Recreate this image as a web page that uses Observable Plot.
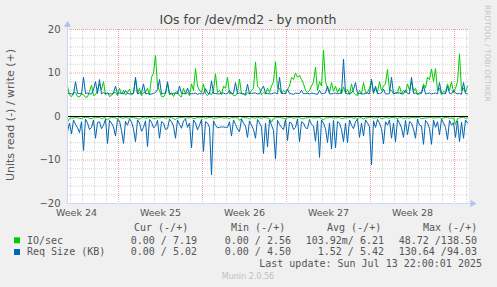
<!DOCTYPE html>
<html><head><meta charset="utf-8">
<script src="https://cdn.jsdelivr.net/npm/d3@7"></script>
<script src="https://cdn.jsdelivr.net/npm/@observablehq/plot@0.6"></script>
<style>
html,body{margin:0;padding:0;background:#f0f0f0;}
#chart{position:relative;width:497px;height:287px;overflow:hidden;background:#f0f0f0;}
#chart > svg{position:absolute;left:0;top:0;}
</style></head><body><div id="chart"></div>
<script>
// ---- data (one sample every 4 hours, from Jun 10 18:00 UTC) ----
const wIO = [
7,5, 4.5,5.5, 5.5,4.6, 4.5,5.2, 5,4.4, 4.5,5.8, 7.2,4.8, 5,6, 7.5,6.2, 8,5,
5.5,4.6, 4.8,5.4, 5.5,4.8, 6.5,5.2, 6,4.9, 5.5,6.3, 5,5.4, 8.5,5.2, 6.5,4.8, 5.5,5.6,
6.5,5, 9,10, 14,7, 6,4.6, 4.5,5.2, 7.5,5, 5.5,4.6, 5.5,5.8, 4.8,4.5, 6.5,5.2,
5.5,4.8, 7.5,6, 11,7, 6,5.5, 7.5,5.2, 4.8,5.4, 5,6, 9.8,5.5, 6,5, 7,6.5,
9,5.2, 5.5,4.8, 4.8,5.5, 8.6,5.2, 5.2,4.8, 5.5,5.2, 6,6.5, 12.5,7, 6.5,5, 5.5,5.2,
6.5,5.5, 7,8, 12.6,6.5, 6.5,5.2, 6,5.6, 6.2,7, 9,8.5, 10,9, 9.5,8.5, 7.5,6,
5.5,6, 7,8, 11.3,6, 8,7, 15.2,8, 6.5,5.5, 7.8,5.8, 7,5.5, 6.5,5.2, 6.8,5.4,
6.2,5, 7.5,5.5, 5,4.8, 6,5.2, 7.8,5.5, 5.5,6.5, 8.2,5.5, 6.5,5.5, 8,6, 7,7.5,
10.8,6, 6,5.2, 5.5,5.5, 7,5.2, 6,5.5, 7.5,6, 8,5.8, 6.5,5, 5.5,5.5, 7.5,6.5,
9,8.5, 10.9,8, 11,6, 6.5,5, 5.8,5.5, 7.5,6, 8,5.5, 6.5,8, 14.4,6, 6.5,5.5,
7];
const rIO = [
1.2,0.5, 0.3,0.4, 0.2,0.3, 0.4,0.5, 0.3,0.2, 0.2,0.4, 0.5,0.3, 0.3,0.2, 0.2,0.5, 0.3,0.3,
0.8,0.4, 0.2,0.3, 0.3,0.5, 0.2,0.3, 0.4,0.2, 0.3,0.4, 0.2,0.3, 0.3,0.5, 0.6,0.3, 0.2,0.4,
0.3,0.2, 0.2,0.5, 0.4,0.3, 0.3,0.2, 0.2,0.4, 0.3,0.3, 0.2,0.5, 0.7,0.3, 0.3,0.2, 0.2,0.4,
0.3,0.3, 0.2,0.5, 0.4,0.2, 0.3,0.3, 0.2,0.4, 0.3,0.2, 0.2,0.5, 0.3,0.3, 0.2,0.2, 0.4,0.3,
0.3,0.5, 0.2,0.3, 0.3,0.2, 0.9,0.4, 0.2,0.3, 0.3,0.5, 0.2,0.3, 0.4,0.2, 0.3,0.4, 0.2,0.3,
0.3,0.5, 1.3,0.4, 0.3,0.2, 0.2,0.3, 0.4,0.5, 0.3,0.2, 0.2,0.4, 0.3,0.3, 0.2,0.5, 0.5,0.3,
0.3,0.2, 0.2,0.4, 0.3,0.3, 0.2,0.5, 0.8,0.3, 0.3,0.2, 0.2,0.4, 0.3,0.3, 0.2,0.5, 0.4,0.3,
0.3,0.2, 0.2,0.4, 0.3,0.5, 0.2,0.3, 0.6,0.3, 0.3,0.2, 0.2,0.4, 0.3,0.3, 0.2,0.5, 0.4,0.2,
0.3,0.4, 0.2,0.3, 0.3,0.5, 0.2,0.2, 0.5,0.3, 0.3,0.4, 0.2,0.3, 0.3,0.2, 0.2,0.5, 0.4,0.3,
0.3,0.2, 0.2,0.4, 0.3,0.3, 0.2,0.5, 0.3,0.2, 0.2,0.4, 0.4,0.3, 1.8,0.5, 0.3,0.2, 0.2,0.4,
0.3];
const wRS = [
5.4,5.3, 5.2,5.1, 8,5.3, 5.3,5.2, 9,5.3, 5.4,5.2, 5.2,6.2, 8,5.3, 8.5,5.2, 5.5,5.3,
5.3,5.2, 5.2,5.4, 7,5.2, 5.4,5.3, 5.2,6, 5.3,5.2, 5.2,5.3, 9,5.2, 5.4,5.3, 7.5,5.2,
5.3,5.1, 5.2,5.3, 5.5,6.2, 8.5,5.2, 5.3,5.4, 8,5.2, 5.2,5.3, 5.4,5.2, 7,5.3, 5.3,5.2,
6.5,5.2, 5.2,5.3, 5.4,5.1, 5.3,5.2, 5.2,6.4, 5.4,5.2, 8.2,5.3, 5.3,5.2, 5.2,5.4, 5.4,5.2,
5.3,6, 5.2,5.3, 7.8,5.2, 5.4,5.3, 5.2,5.1, 7.4,5.2, 5.3,5.4, 5.4,5.2, 5.2,6.2, 7,5.3,
5.3,5.2, 5.2,5.4, 5.4,5.2, 9,5.3, 5.3,5.2, 6.3,5.3, 5.2,5.1, 5.4,5.3, 5.3,6, 5.2,5.3,
5.3,5.2, 5.4,5.3, 5.2,5.1, 6,5.2, 5.3,5.4, 7,5.2, 5.2,5.3, 5.4,5.2, 5.3,5.4, 13.2,5.3,
5.2,5.3, 5.4,6.2, 7.8,5.2, 5.3,5.2, 5.2,5.3, 5.4,5.2, 8.6,5.3, 7,5.2, 5.3,5.4, 6.3,5.2,
5.2,5.3, 9,5.2, 5.3,5.4, 5.4,5.2, 5.2,6.1, 5.3,5.2, 9,5.3, 5.4,5.2, 5.2,5.3, 7,5.2,
5.3,5.4, 5.2,5.3, 5.4,5.2, 7.8,5.3, 5.3,5.2, 7,5.3, 5.2,6, 5.4,5.2, 5.3,5.1, 7.8,5.3,
5.2];
const rRS = [
3.5,1.5, 4,0.8, 1.8,2.6, 3.7,1.2, 7.8,0.6, 1.5,3, 2.5,0.8, 5,1.4, 1.2,2.8, 2,0.6,
6.2,0.9, 1.5,2.4, 4.5,0.7, 1,3.2, 6.2,1.1, 2,0.6, 1.2,2.9, 5.8,0.8, 1.5,3.4, 2.5,1,
6.9,0.7, 1.3,2.6, 2.2,0.9, 5,1.2, 1.5,3, 2.8,0.6, 1.2,2.2, 5,0.8, 1.8,2.7, 1,0.6,
2.5,1.5, 7.2,0.8, 1.5,3.1, 2,0.7, 8,1.2, 1.5,2.5, 13.4,1, 2,2.6, 2.5,2.4, 2.4,2.5,
2.5,1.2, 4.5,0.8, 1.8,2.9, 3.5,0.6, 1.5,2.2, 4.8,1, 2,3, 5,0.7, 1.5,2.4, 8.5,1.5,
7,0.8, 2,3.2, 9.7,0.9, 1.8,2.5, 3,0.7, 5.5,1.3, 1.5,3, 2.5,0.6, 5.8,1.2, 1.5,2.6,
2.8,0.7, 1.8,2.2, 5.7,1, 9.4,0.8, 1.5,2.8, 6,1.5, 7.5,0.9, 7.2,1.2, 1.5,3, 5.8,1.5,
6,0.8, 2,2.8, 1.2,0.6, 4.8,1.5, 4.5,0.8, 1.5,2.4, 11.1,1, 2.5,0.7, 1.5,2.8, 6.3,1.2,
2,0.8, 5,1.5, 5.8,0.7, 1.5,2.6, 4.8,0.9, 4.2,1.2, 1.5,2.9, 5,0.6, 2,2.2, 6.4,0.9,
1.5,2.7, 6.4,0.8, 2.5,1.2, 4.2,0.6, 1.5,2.5, 5.3,0.9, 2,1.4, 4.8,1, 5.8,1.3, 5,0.8,
1.5];

const weekStartDays = ["2025-06-15","2025-06-22","2025-06-29","2025-07-06","2025-07-13"];
const weekMidTimes = ["2025-06-11T12:00:00Z","2025-06-18T12:00:00Z","2025-06-25T12:00:00Z","2025-07-02T12:00:00Z","2025-07-09T12:00:00Z"];
const weekLabels = ["Week 24","Week 25","Week 26","Week 27","Week 28"];
const yTicks = [-20,-10,0,10,20];

const titleText = "IOs for /dev/md2 - by month";
const yLabelText = "Units read (-) / write (+)";
const sideText = "RRDTOOL / TOBI OETIKER";
const legendHeaders = ["Cur (-/+)","Min (-/+)","Avg (-/+)","Max (-/+)"];
const seriesNames = ["IO/sec","Req Size (KB)"];
const seriesColors = ["#00cc00","#0066b3"];
const curVals = ["0.00 / 7.19","0.00 / 5.02"];
const minVals = ["0.00 / 2.56","0.00 / 4.50"];
const avgVals = ["103.92m/ 6.21","1.52 / 5.42"];
const maxVals = ["48.72 /138.50","130.64 /94.03"];
const lastUpdate = "Last update: Sun Jul 13 22:00:01 2025";
const footer = "Munin 2.0.56";

// ---- build ----
const t0 = new Date("2025-06-10T18:00:00Z");
const t1 = new Date("2025-07-14T04:00:00Z");
const stepMs = 4 * 3600 * 1000;
const rows = wIO.map((v, i) => ({t: new Date(+t0 + i * stepMs), wIO: v, rIO: -rIO[i], wRS: wRS[i], rRS: -rRS[i]}));
const weekStarts = weekStartDays.map(d => new Date(d + "T00:00:00Z"));
const weekMids = weekMidTimes.map(d => new Date(d));
const labelMap = new Map(weekMids.map((d, i) => [+d, weekLabels[i]]));
const days = d3.utcDay.range(t0, t1);
const yMinor = d3.range(-20, 21, 2).filter(v => v % 10 !== 0);
const axisColor = "#cfd6f5", arrowColor = "#b3bff3";
const xArrowT = new Date(+t1 + 4 * 7200000);

const plot = Plot.plot({
  width: 497, height: 225,
  marginTop: 29, marginBottom: 22, marginLeft: 67, marginRight: 29,
  style: {background: "transparent", color: "#555", fontFamily: "'DejaVu Sans', sans-serif", fontSize: "10px", overflow: "visible"},
  x: {type: "utc", domain: [t0, t1]},
  y: {domain: [-20, 20]},
  marks: [
    Plot.frame({fill: "#ffffff", stroke: null}),
    Plot.ruleY(yMinor, {stroke: "#d6d6d6", strokeDasharray: "1,1"}),
    Plot.ruleX(days, {stroke: "#d6d6d6", strokeDasharray: "1,1"}),
    Plot.ruleY(yTicks, {stroke: "#f0a0a0", strokeDasharray: "1,1"}),
    Plot.ruleX(weekStarts, {stroke: "#f0a0a0", strokeDasharray: "1,1"}),
    Plot.lineY(rows, {x: "t", y: "wIO", stroke: seriesColors[0], strokeWidth: 1}),
    Plot.lineY(rows, {x: "t", y: "rIO", stroke: seriesColors[0], strokeWidth: 1}),
    Plot.lineY(rows, {x: "t", y: "wRS", stroke: seriesColors[1], strokeWidth: 1}),
    Plot.lineY(rows, {x: "t", y: "rRS", stroke: seriesColors[1], strokeWidth: 1}),
    Plot.ruleY([0], {stroke: "#000", strokeWidth: 1}),
    Plot.ruleX([t0], {y1: -20, y2: 21.3, stroke: axisColor}),
    Plot.ruleY([-20], {x1: t0, x2: xArrowT, stroke: axisColor}),
    Plot.dot([{x: t0, y: 21.1}], {x: "x", y: "y", symbol: "triangle", r: 2.6, fill: arrowColor, stroke: null}),
    Plot.dot([{x: xArrowT, y: -20}], {x: "x", y: "y", symbol: "triangle", r: 2.6, rotate: 90, fill: arrowColor, stroke: null}),
    Plot.axisY(yTicks, {tickSize: 0, tickPadding: 7, label: null, fontSize: 10}),
    Plot.axisX(weekMids, {tickSize: 0, tickPadding: 6, label: null, fontSize: 9.5, tickFormat: d => labelMap.get(+d)})
  ]
});
document.getElementById("chart").appendChild(plot);

const ov = d3.select("#chart").append("svg").attr("width", 497).attr("height", 287).style("pointer-events", "none");
const sans = "'DejaVu Sans', sans-serif", mono = "'DejaVu Sans Mono', monospace";
ov.append("text").attr("x", 248).attr("y", 24).attr("text-anchor", "middle").attr("font-family", sans).attr("font-size", 12.5).attr("fill", "#444").text(titleText);
ov.append("text").attr("transform", "translate(14,115) rotate(-90)").attr("text-anchor", "middle").attr("font-family", sans).attr("font-size", 11).attr("fill", "#555").text(yLabelText);
ov.append("text").attr("transform", "translate(485,5) rotate(90)").attr("text-anchor", "start").attr("font-family", sans).attr("font-size", 7.5).attr("fill", "#c4c4c4").text(sideText);

const headerX = [134, 231, 327, 423];
legendHeaders.forEach((h, i) => ov.append("text").attr("x", headerX[i]).attr("y", 230.5).attr("font-family", mono).attr("font-size", 10).attr("fill", "#555").style("white-space", "pre").text(h));
const colEnds = [197, 291, 384, 477];
const rowBase = [243.6, 255.3];
seriesNames.forEach((n, r) => {
  ov.append("rect").attr("x", 14).attr("y", rowBase[r] - 6.3).attr("width", 6).attr("height", 6).attr("fill", seriesColors[r]);
  ov.append("text").attr("x", 27).attr("y", rowBase[r]).attr("font-family", mono).attr("font-size", 10).attr("fill", "#555").style("white-space", "pre").text(n);
  [curVals, minVals, avgVals, maxVals].forEach((arr, c) =>
    ov.append("text").attr("x", colEnds[c]).attr("y", rowBase[r]).attr("text-anchor", "end").attr("font-family", mono).attr("font-size", 10).attr("fill", "#555").style("white-space", "pre").text(arr[r]));
});
ov.append("text").attr("x", 482).attr("y", 266.5).attr("text-anchor", "end").attr("font-family", mono).attr("font-size", 10).attr("fill", "#555").text(lastUpdate);
ov.append("text").attr("x", 248).attr("y", 279).attr("text-anchor", "middle").attr("font-family", sans).attr("font-size", 8).attr("fill", "#c0c0c0").text(footer);
</script></body></html>
